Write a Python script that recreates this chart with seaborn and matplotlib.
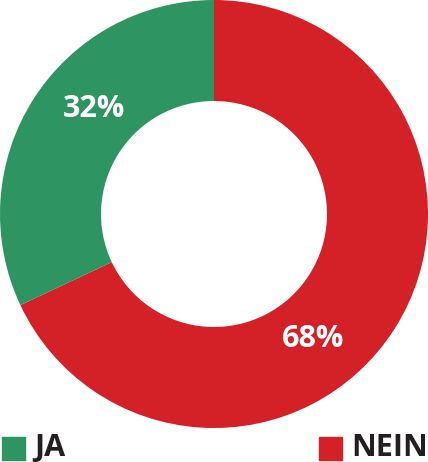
import seaborn as sns
import matplotlib.pyplot as plt
from matplotlib.patches import Rectangle

labels = ['NEIN', 'JA']
values = [68, 32]
colors = ['#d42027', '#2e9462']

sns.set_theme(style='white')
plt.rcParams['font.family'] = ['Open Sans', 'DejaVu Sans']

fig = plt.figure(figsize=(4.28, 4.62), dpi=100)
ax = fig.add_axes([0, 34 / 462, 1, 428 / 462])
wedges, _ = ax.pie(values, colors=colors, startangle=90, counterclock=False,
                   radius=1, wedgeprops=dict(width=0.472, linewidth=0))
ax.set_xlim(-1, 1)
ax.set_ylim(-1, 1)
ax.set_aspect('equal')
ax.axis('off')

# percentage labels, placed like the original
ax.text(-0.56, 0.49, f'{values[1]}%', color='white', fontsize=22, fontweight='bold',
        ha='center', va='center')
ax.text(0.465, -0.585, f'{values[0]}%', color='white', fontsize=22, fontweight='bold',
        ha='center', va='center')

# legend at the bottom
W, H = 428, 462
for x0, tx, lab, col in [(2, 34, labels[1], colors[1]), (319, 351, labels[0], colors[0])]:
    fig.patches.append(Rectangle((x0 / W, 2 / H), 23 / W, 23 / H, color=col,
                                 transform=fig.transFigure, figure=fig))
    fig.text(tx / W, 14 / H, lab, color='#231f20', fontsize=22, fontweight='bold',
             ha='left', va='center')

fig.savefig('out.png', dpi=100)
